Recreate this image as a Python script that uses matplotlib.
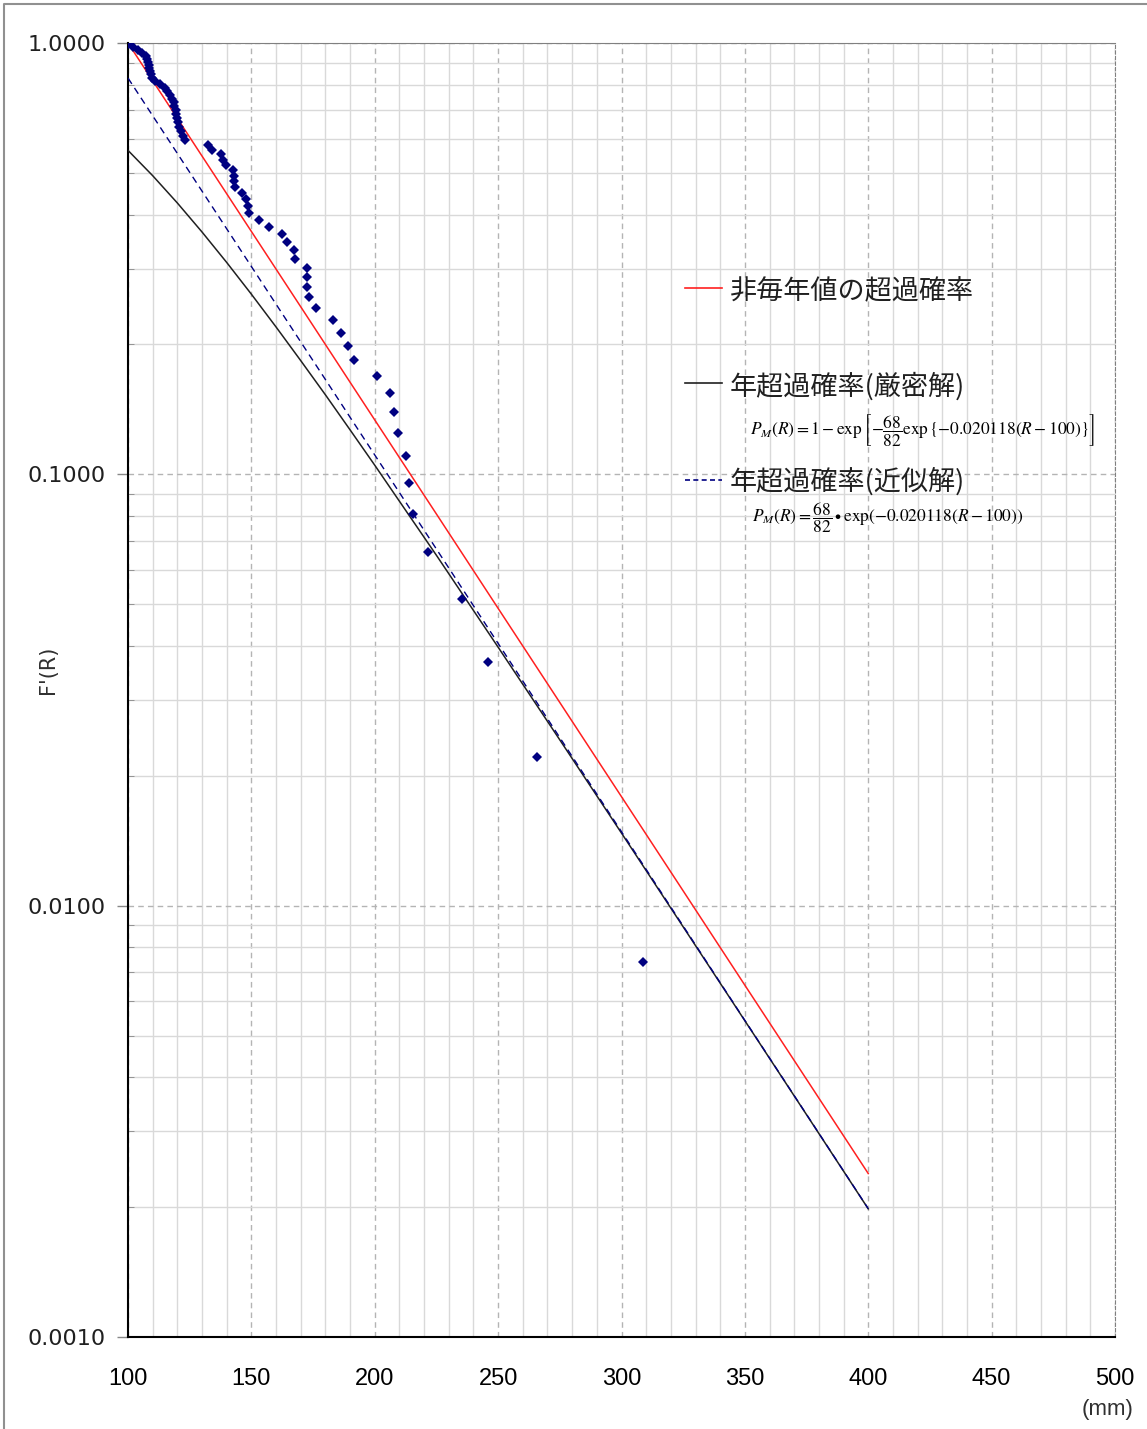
import matplotlib
matplotlib.use("Agg")
import matplotlib.pyplot as plt
from matplotlib.lines import Line2D
from matplotlib.ticker import LogLocator, MultipleLocator, NullFormatter

plt.rcParams['font.family'] = ['Noto Sans CJK JP', 'DejaVu Sans']
plt.rcParams['mathtext.fontset'] = 'stix'

# rainfall of non-annual series (mm), largest first
rain = [308.7, 265.8, 245.9, 235.4, 221.6, 215.5, 213.9, 212.7, 209.4, 207.8,
        206.3, 200.8, 191.7, 189.3, 186.2, 183.0, 176.2, 173.4, 172.4, 172.4,
        172.4, 167.7, 167.3, 164.3, 162.5, 157.1, 153.2, 149.2, 148.5, 147.8,
        146.3, 143.4, 143.1, 143.0, 142.7, 139.7, 138.6, 137.7, 133.9, 132.5,
        123.1, 122.3, 121.5, 120.7, 120.1, 119.7, 119.5, 119.3, 118.8, 118.6,
        118.0, 117.0, 116.0, 114.8, 113.0, 110.9, 109.6, 109.3, 108.9, 108.7,
        108.5, 108.3, 107.9, 107.1, 105.7, 104.1, 102.0, 100.0]
# plotted exceedance probability of each point
prob = [0.0074, 0.0221, 0.0368, 0.0515, 0.0662, 0.0809, 0.0956, 0.1103, 0.1250, 0.1397,
        0.1544, 0.1691, 0.1838, 0.1985, 0.2132, 0.2279, 0.2426, 0.2574, 0.2721, 0.2868,
        0.3015, 0.3162, 0.3309, 0.3456, 0.3603, 0.3750, 0.3897, 0.4044, 0.4191, 0.4338,
        0.4485, 0.4632, 0.4779, 0.4926, 0.5074, 0.5221, 0.5368, 0.5515, 0.5662, 0.5809,
        0.5956, 0.6103, 0.6250, 0.6397, 0.6544, 0.6691, 0.6838, 0.6985, 0.7132, 0.7279,
        0.7426, 0.7574, 0.7721, 0.7868, 0.8015, 0.8162, 0.8309, 0.8456, 0.8603, 0.8750,
        0.8897, 0.9044, 0.9191, 0.9338, 0.9485, 0.9632, 0.9779, 0.9926]

# curves read along R
curve_R = [100, 110, 120, 130, 140, 150, 160, 170, 180, 190, 200,
           225, 250, 275, 300, 325, 350, 375, 400]
red_F = [1.0, 0.8178, 0.6688, 0.5469, 0.4472, 0.3657, 0.2991, 0.2446, 0.2000, 0.1635,
         0.1337, 0.0809, 0.0489, 0.02958, 0.01789, 0.01082, 0.00654, 0.003957, 0.002393]
exact_F = [0.5637, 0.4925, 0.4257, 0.3646, 0.3099, 0.2616, 0.2196, 0.1835, 0.1529, 0.1268,
           0.1050, 0.0649, 0.03974, 0.02423, 0.01473, 0.00893, 0.00541, 0.003276, 0.001982]
approx_F = [0.8293, 0.6782, 0.5546, 0.4535, 0.3709, 0.3033, 0.2480, 0.2028, 0.1659, 0.1356,
            0.1109, 0.0671, 0.04055, 0.02453, 0.01484, 0.00897, 0.00542, 0.003281, 0.001984]

ytick_vals = [0.001, 0.01, 0.1, 1.0]
ytick_labels = ['0.0010', '0.0100', '0.1000', '1.0000']
xtick_vals = [100, 150, 200, 250, 300, 350, 400, 450, 500]

W, H = 1147, 1429
fig = plt.figure(figsize=(W / 100, H / 100), dpi=100)


def fx(x):
    return x / W


def fy(y):
    return 1 - y / H


ax = fig.add_axes([fx(128), fy(1337), fx(1115) - fx(128), fy(43) - fy(1337)])
ax.set_yscale('log')
ax.set_xlim(100, 500)
ax.set_ylim(0.001, 1.0)

navy = '#000080'
ax.plot(curve_R, red_F, color='#ff2020', lw=1.1, zorder=3)
ax.plot(curve_R, exact_F, color='#202020', lw=1.1, zorder=3)
ax.plot(curve_R, approx_F, color=navy, lw=1.0, ls=(0, (5, 3.5)), zorder=3)
ax.plot(rain, prob, 'D', color=navy, ms=5.6, mew=0, zorder=4)

# grid
ax.set_xticks(xtick_vals)
ax.xaxis.set_minor_locator(MultipleLocator(10))
ax.set_yticks(ytick_vals)
ax.set_yticklabels(ytick_labels)
ax.yaxis.set_minor_locator(LogLocator(base=10, subs=range(2, 10)))
ax.yaxis.set_minor_formatter(NullFormatter())
ax.grid(which='minor', color='#d9d9d9', lw=1.0, ls='-', zorder=0)
ax.grid(which='major', color='#b4b4b4', lw=1.0, ls=(0, (4, 3)), zorder=0)
ax.set_axisbelow(True)

ax.tick_params(axis='x', which='both', length=0, pad=22, labelsize=17)
ax.tick_params(axis='y', which='major', length=8, direction='out', pad=8,
               labelsize=16, width=1, color='#888888')
ax.tick_params(axis='y', which='minor', length=4, direction='in', color='#888888')
for lab in ax.get_xticklabels():
    lab.set_family(['Liberation Sans', 'DejaVu Sans'])
for lab in ax.get_yticklabels():
    lab.set_family(['DejaVu Sans'])
    lab.set_color('#202020')

for s in ['left', 'bottom']:
    ax.spines[s].set_color('black')
    ax.spines[s].set_linewidth(1.5)
ax.spines['top'].set_color('#808080')
ax.spines['right'].set_color('#808080')
ax.spines['right'].set_linestyle((0, (3, 2)))

fig.text(fx(48), fy(670), "F'(R)", rotation=90, ha='center', va='center',
         fontsize=15, color='#303030', family=['DejaVu Sans'])
fig.text(fx(1108), fy(1410), '(mm)', ha='center', va='center', fontsize=16,
         family=['Liberation Sans', 'DejaVu Sans'], color='#303030')

# legend drawn by hand
leg = [('#ff2020', '-', 288, 292, '非毎年値の超過確率'),
       ('#202020', '-', 383, 386, '年超過確率(厳密解)'),
       (navy, (0, (3, 2)), 480, 482, '年超過確率(近似解)')]
for col, ls, ly, ty, txt in leg:
    fig.add_artist(Line2D([fx(685), fx(722)], [fy(ly), fy(ly)], color=col,
                          ls=ls, lw=1.2, transform=fig.transFigure))
    fig.text(fx(730), fy(ty), txt, ha='left', va='center', fontsize=19.5,
             color='#202020')

fig.text(fx(750), fy(430),
         r'$P_{M}(R)=1-\exp\left[-\dfrac{68}{82}\exp\{-0.020118(R-100)\}\right]$',
         ha='left', va='center', fontsize=12.5, color='black')
fig.text(fx(752), fy(518),
         r'$P_{M}(R)=\dfrac{68}{82}\bullet\exp(-0.020118(R-100))$',
         ha='left', va='center', fontsize=12.5, color='black')

# outer frame
fig.add_artist(Line2D([fx(4), fx(4), fx(1147)], [0, fy(4), fy(4)], color='#909090',
                      lw=1.5, transform=fig.transFigure))

fig.savefig('out.png', dpi=100)
